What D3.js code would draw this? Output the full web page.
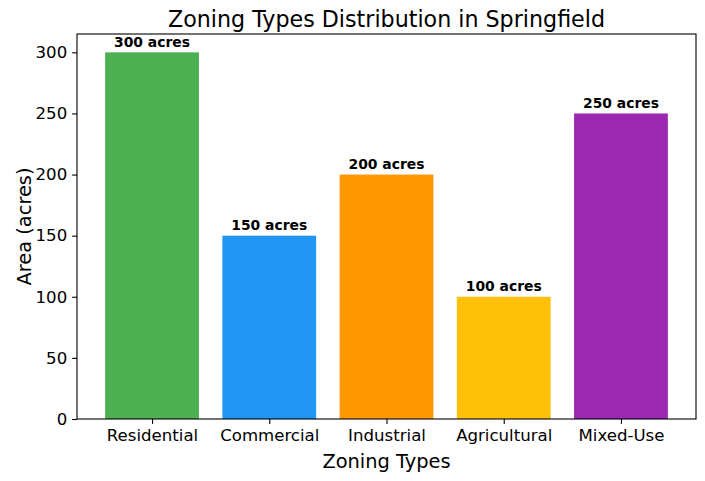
<!DOCTYPE html>
<html><head><meta charset="utf-8">
<script src="https://cdn.jsdelivr.net/npm/d3@7"></script>
<style>body{margin:0;background:#fff}svg{display:block}text{font-family:"DejaVu Sans",sans-serif}</style>
</head><body>
<svg id="c" width="705" height="481"></svg>
<script>
const categories = ["Residential","Commercial","Industrial","Agricultural","Mixed-Use"];
const values = [300,150,200,100,250];
const colors = ["#4CAF50","#2196F3","#FF9800","#FFC107","#9C27B0"];
const yTicks = [0,50,100,150,200,250,300];

const svg = d3.select("#c");
const L=77, R=696, T=34, B=419;
const x = d3.scaleLinear().domain([-0.64, categories.length-1+0.64]).range([L,R]);
const y = d3.scaleLinear().domain([0,315]).range([B,T]);
const bw = x(0.8)-x(0);

svg.selectAll("rect.bar").data(values).join("rect")
  .attr("x",(d,i)=>x(i-0.4)).attr("width",bw)
  .attr("y",d=>y(d)).attr("height",d=>y(0)-y(d))
  .attr("fill",(d,i)=>colors[i]);

svg.selectAll("text.lbl").data(values).join("text")
  .attr("x",(d,i)=>x(i)).attr("y",d=>y(d)-5.5)
  .attr("text-anchor","middle").attr("font-size","13.9px").attr("font-weight","bold")
  .text(d=>d+" acres");

const ya = svg.append("g").attr("transform",`translate(${L},0)`)
  .call(d3.axisLeft(y).tickValues(yTicks).tickSize(4.9).tickPadding(4.9));
const xa = svg.append("g").attr("transform",`translate(0,${B})`)
  .call(d3.axisBottom(x).tickValues(d3.range(categories.length)).tickFormat(i=>categories[i]).tickSize(4.9).tickPadding(4.9));
[ya,xa].forEach(g=>{g.select(".domain").remove();g.selectAll("text").attr("font-size","16.6px").attr("fill","#000").attr("font-family","DejaVu Sans");g.selectAll("line").attr("stroke","#000").attr("stroke-width",1.1);});

svg.append("rect").attr("x",L).attr("y",T).attr("width",R-L).attr("height",B-T)
  .attr("fill","none").attr("stroke","#000").attr("stroke-width",1.1);

svg.append("text").attr("x",(L+R)/2).attr("y",27).attr("text-anchor","middle").attr("font-size","22.2px").text("Zoning Types Distribution in Springfield");
svg.append("text").attr("x",(L+R)/2).attr("y",468).attr("text-anchor","middle").attr("font-size","19.4px").text("Zoning Types");
svg.append("text").attr("transform",`translate(31,${(T+B)/2}) rotate(-90)`).attr("text-anchor","middle").attr("font-size","19.4px").text("Area (acres)");
</script>
</body></html>
